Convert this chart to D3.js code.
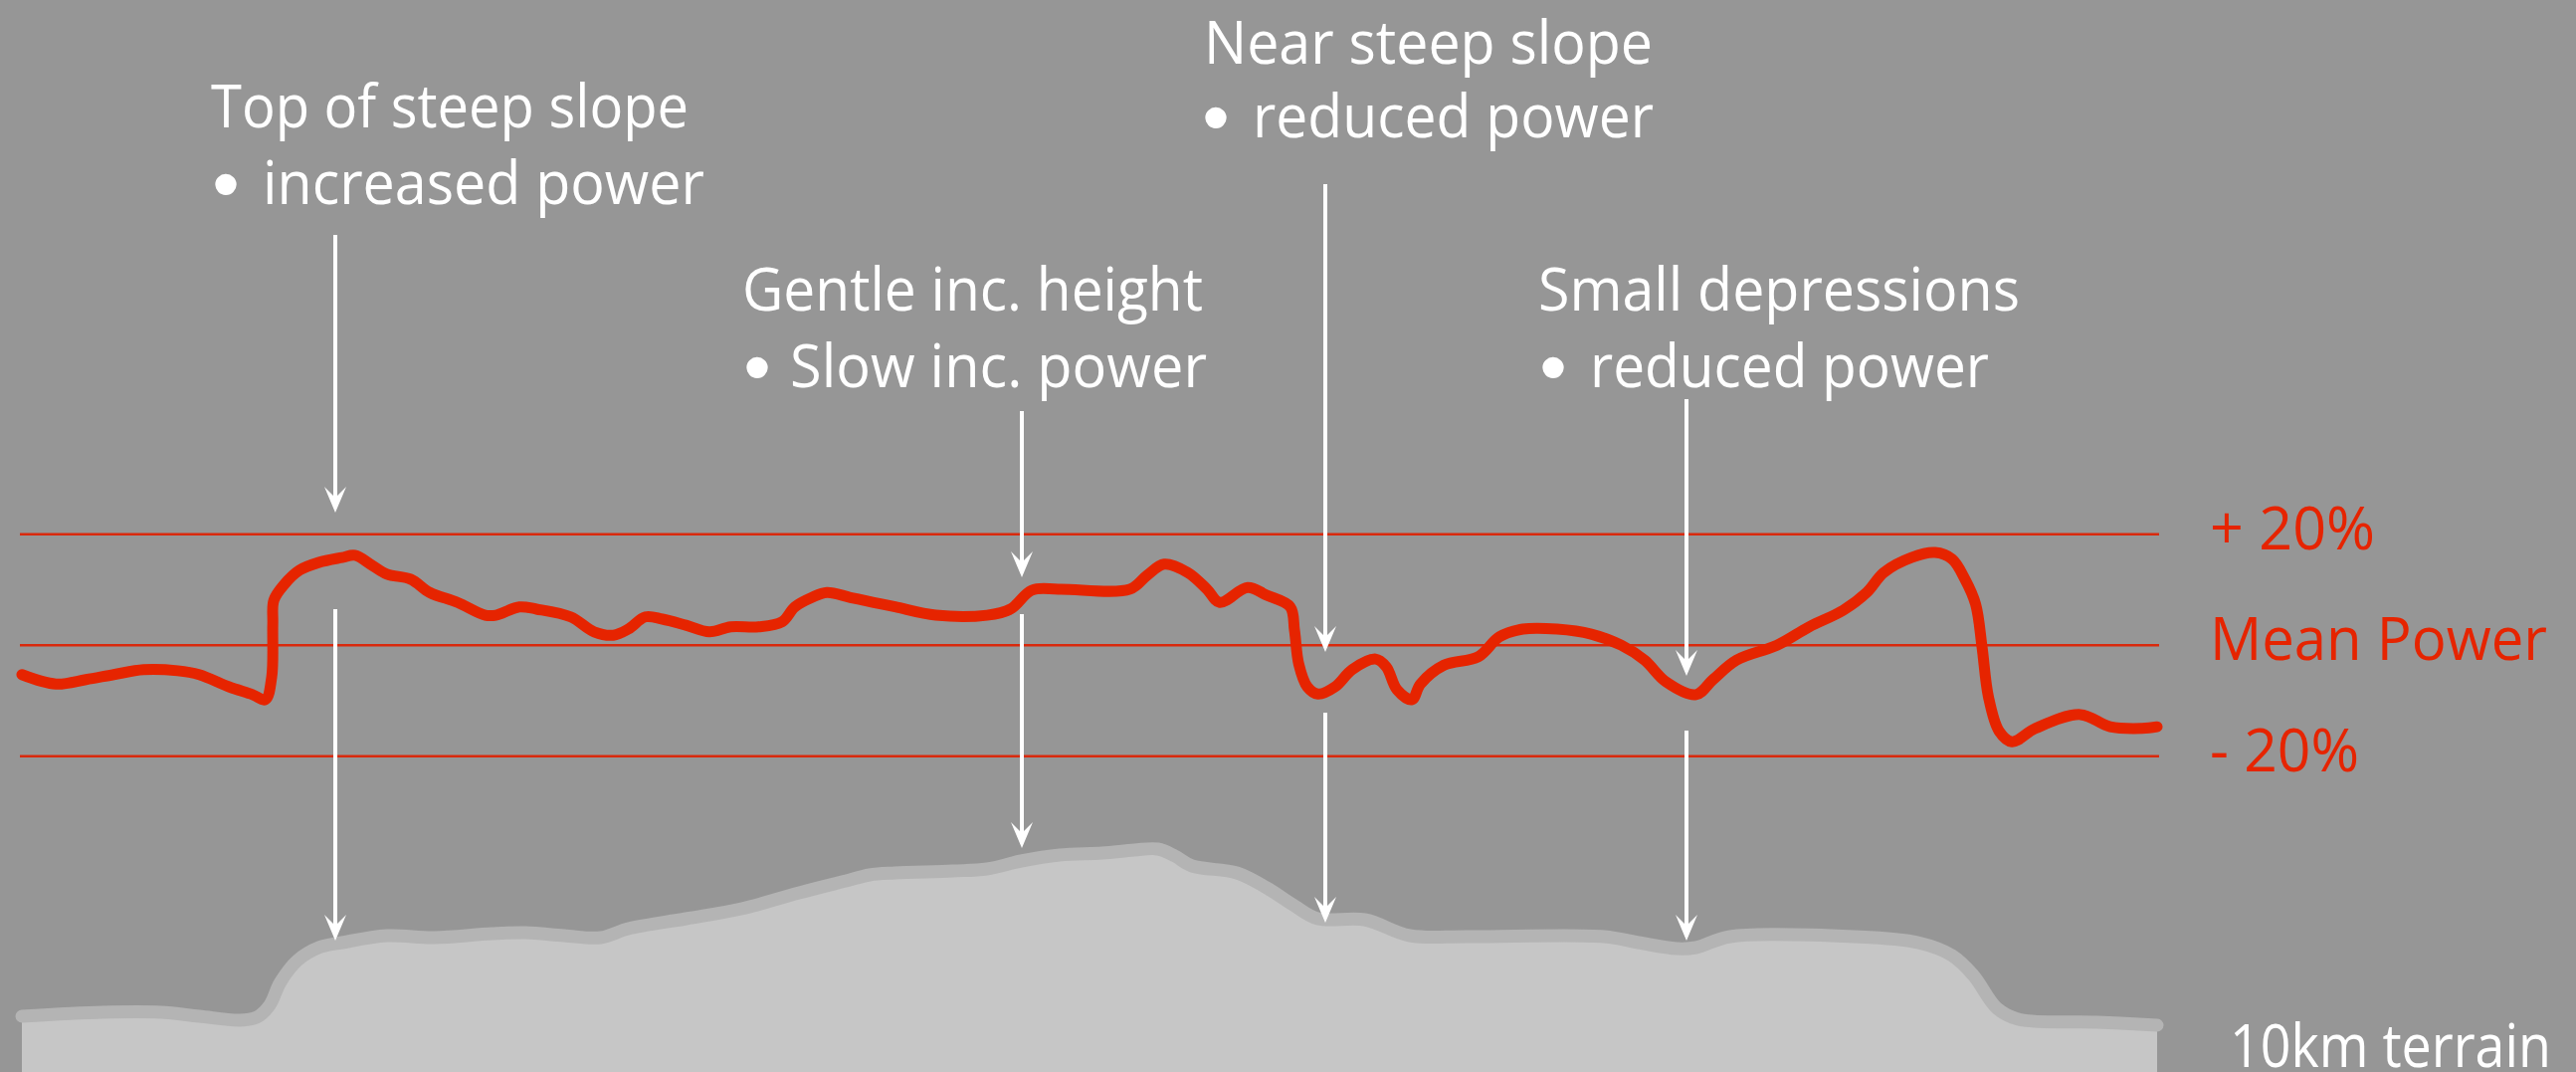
<!DOCTYPE html>
<html><head><meta charset="utf-8">
<script src="https://cdn.jsdelivr.net/npm/d3@7/dist/d3.min.js"></script>
<style>html,body{margin:0;padding:0;background:#969696;overflow:hidden}</style>
</head><body>
<svg id="chart" width="2589" height="1077"></svg>
<script>
// ---- data ----
const powerKm = [0.0,0.16,0.30,0.43,0.57,0.73,0.83,0.97,1.08,1.14,1.17,1.175,1.18,1.23,1.30,1.39,1.50,1.56,1.64,1.71,1.82,1.91,2.04,2.17,2.22,2.33,2.41,2.57,2.68,2.77,2.84,2.92,3.00,3.11,3.22,3.32,3.45,3.56,3.62,3.70,3.77,3.88,3.99,4.09,4.28,4.52,4.63,4.73,4.86,5.19,5.27,5.35,5.46,5.55,5.61,5.74,5.83,5.94,5.96,5.98,6.02,6.07,6.15,6.23,6.34,6.39,6.44,6.51,6.55,6.66,6.82,6.92,7.03,7.19,7.35,7.49,7.60,7.70,7.84,7.92,8.03,8.22,8.37,8.53,8.64,8.72,8.85,8.96,9.04,9.10,9.15,9.18,9.21,9.26,9.32,9.43,9.64,9.78,9.93,10.0];
const powerPct = [-5.3,-7.0,-6.2,-5.3,-4.4,-4.6,-5.3,-7.5,-8.9,-9.8,-5.7,3.8,8.1,11.0,13.5,14.9,15.8,16.2,14.4,12.8,11.9,9.5,7.7,5.4,5.4,6.9,6.5,5.1,2.4,1.8,2.9,5.1,4.7,3.6,2.4,3.3,3.3,4.2,6.9,8.6,9.5,8.6,7.7,6.9,5.4,5.4,6.5,9.9,10.1,10.1,12.6,14.6,13.1,10.1,7.7,10.4,9.0,6.9,2.7,-3.4,-7.5,-8.8,-7.5,-4.4,-2.5,-3.9,-8.0,-9.8,-7.0,-3.6,-2.1,1.5,2.9,2.9,2.0,0.0,-2.7,-6.6,-8.9,-6.2,-2.7,0.0,3.3,6.3,9.5,13.1,15.8,16.7,15.5,11.9,7.4,-0.3,-9.3,-15.5,-17.4,-15.0,-12.5,-14.7,-15.0,-14.7];
const terrainKm = [0.0,0.38,0.65,0.83,1.02,1.10,1.16,1.21,1.29,1.39,1.50,1.71,1.93,2.20,2.36,2.54,2.71,2.84,3.11,3.37,3.64,3.86,3.97,4.09,4.36,4.52,4.68,4.86,5.06,5.21,5.32,5.40,5.48,5.69,5.83,5.96,6.07,6.29,6.50,6.77,7.41,7.57,7.75,7.84,8.00,8.58,8.88,9.04,9.14,9.25,9.35,9.72,10.0];
const terrainHeight = [14.5,16.5,16.5,14.5,12.5,14,20,31.5,42.5,49,51.5,55,54,56,56.5,55,54,58.5,63.5,68.5,76.5,82.5,85.5,86.5,87.5,88.5,92.5,95.5,96.5,98,98.5,95,90,86.5,79,70,63.5,63,55,54.5,54.5,51.5,48.5,49,54.5,54.5,51.5,45,35,18.5,13,11.5,10];
const refLevels = [20, 0, -20];
const refLabels = ["+ 20%", "Mean Power", "- 20%"];
const terrainLabel = "10km terrain";
const annotationTitles = ["Top of steep slope", "Gentle inc. height", "Near steep slope", "Small depressions"];
const annotationNotes = ["increased power", "Slow inc. power", "reduced power", "reduced power"];
const annotationKm = [1.468, 4.683, 6.104, 7.796];

// ---- layout ----
const W = 2589, H = 1077;
const C = { bg:"#969696", red:"#e62400", refLine:"#d9290c", terrainFill:"#c6c6c6", terrainEdge:"#b4b4b4", white:"#ffffff" };
const font = "'Open Sans', 'Noto Sans', sans-serif";
const bulletFont = "'Liberation Sans', 'DejaVu Sans', sans-serif";
const textLayout = [
  {x:212, y1:128, y2:205, w1:480, bx:216, nx:264, w2:444},
  {x:746, y1:312, y2:389, w1:463, bx:750, nx:794, w2:419},
  {x:1210, y1:64, y2:138, w1:451, bx:1211, nx:1259, w2:403},
  {x:1546, y1:312, y2:389, w1:484, bx:1550, nx:1598, w2:401}
];
const arrowLayout = [
  {u0:236, u1:515, l0:612, l1:945},
  {u0:413, u1:580, l0:617, l1:852},
  {u0:185, u1:655, l0:716, l1:927},
  {u0:401, u1:679, l0:734, l1:945}
];
const refLabelLayout = [{x:2221, w:166},{x:2221, w:339},{x:2221, w:150}];

const svg = d3.select("#chart");
svg.append("rect").attr("width", W).attr("height", H).attr("fill", C.bg);

const x = d3.scaleLinear().domain([0, 10]).range([22, 2168]);
const yP = d3.scaleLinear().domain([-20, 20]).range([759.7, 536.7]);
const yT = d3.scaleLinear().domain([0, 100]).range([1050, 850]);
const curve = d3.curveCatmullRom.alpha(0.5);

// terrain
const terrain = terrainKm.map((k, i) => ({k, h: terrainHeight[i]}));
svg.append("path").datum(terrain)
  .attr("d", d3.area().curve(curve).x(d => x(d.k)).y0(H + 5).y1(d => yT(d.h)))
  .attr("fill", C.terrainFill);
svg.append("path").datum(terrain)
  .attr("d", d3.line().curve(curve).x(d => x(d.k)).y(d => yT(d.h)))
  .attr("fill", "none").attr("stroke", C.terrainEdge).attr("stroke-width", 13)
  .attr("stroke-linecap", "round").attr("stroke-linejoin", "round");

// reference lines
svg.selectAll("line.ref").data(refLevels).enter().append("line")
  .attr("class", "ref")
  .attr("x1", 20).attr("x2", 2170)
  .attr("y1", d => yP(d)).attr("y2", d => yP(d))
  .attr("stroke", C.refLine).attr("stroke-width", 2.5);

svg.selectAll("text.ref").data(refLabels).enter().append("text")
  .attr("class", "ref")
  .attr("x", (d, i) => refLabelLayout[i].x)
  .attr("y", (d, i) => yP(refLevels[i]) + 15)
  .attr("textLength", (d, i) => refLabelLayout[i].w)
  .attr("lengthAdjust", "spacingAndGlyphs")
  .attr("font-family", font).attr("font-size", 60)
  .attr("fill", C.red).text(d => d);

svg.append("text").attr("x", 2241).attr("y", 1072)
  .attr("textLength", 323).attr("lengthAdjust", "spacingAndGlyphs")
  .attr("font-family", font).attr("font-size", 61)
  .attr("fill", C.white).text(terrainLabel);

// power line
const power = powerKm.map((k, i) => ({k, p: powerPct[i]}));
svg.append("path").datum(power)
  .attr("d", d3.line().curve(curve).x(d => x(d.k)).y(d => yP(d.p)))
  .attr("fill", "none").attr("stroke", C.red).attr("stroke-width", 11)
  .attr("stroke-linecap", "round").attr("stroke-linejoin", "round");

// bullet metrics (ink box) measured via canvas
const ctx = document.createElement("canvas").getContext("2d");
ctx.font = "100px " + bulletFont;
const bm = ctx.measureText("\u2022");
let inkH = (bm.actualBoundingBoxAscent || 0) + (bm.actualBoundingBoxDescent || 0);
if (!(inkH > 1)) inkH = 21;
const bulletDia = 22;
const bSize = bulletDia / inkH * 100;
const bk = bSize / 100;
const inkCx = ((bm.actualBoundingBoxRight || 20) - (bm.actualBoundingBoxLeft || 0)) / 2 * bk;
const inkCy = ((bm.actualBoundingBoxDescent || -25) - (bm.actualBoundingBoxAscent || 46)) / 2 * bk;

// annotations
function arrow(g, ax, y0, y1) {
  g.append("line").attr("x1", ax).attr("x2", ax).attr("y1", y0).attr("y2", y1 - 12)
    .attr("stroke", C.white).attr("stroke-width", 4);
  g.append("path")
    .attr("d", `M${ax},${y1} L${ax - 11},${y1 - 26} L${ax},${y1 - 15} L${ax + 11},${y1 - 26} Z`)
    .attr("fill", C.white);
}
annotationTitles.forEach((t, i) => {
  const g = svg.append("g");
  const L = textLayout[i], A = arrowLayout[i];
  g.append("text").attr("x", L.x).attr("y", L.y1)
    .attr("textLength", L.w1).attr("lengthAdjust", "spacingAndGlyphs")
    .attr("font-family", font).attr("font-size", 61).attr("fill", C.white).text(t);
  g.append("text").attr("font-family", bulletFont).attr("font-size", bSize)
    .attr("x", L.bx + bulletDia / 2 - inkCx).attr("y", L.y2 - 21 - inkCy)
    .attr("fill", C.white).text("\u2022");
  g.append("text").attr("x", L.nx).attr("y", L.y2)
    .attr("textLength", L.w2).attr("lengthAdjust", "spacingAndGlyphs")
    .attr("font-family", font).attr("font-size", 61).attr("fill", C.white).text(annotationNotes[i]);
  const ax = Math.round(x(annotationKm[i]));
  arrow(g, ax, A.u0, A.u1);
  arrow(g, ax, A.l0, A.l1);
});
</script>
</body></html>
